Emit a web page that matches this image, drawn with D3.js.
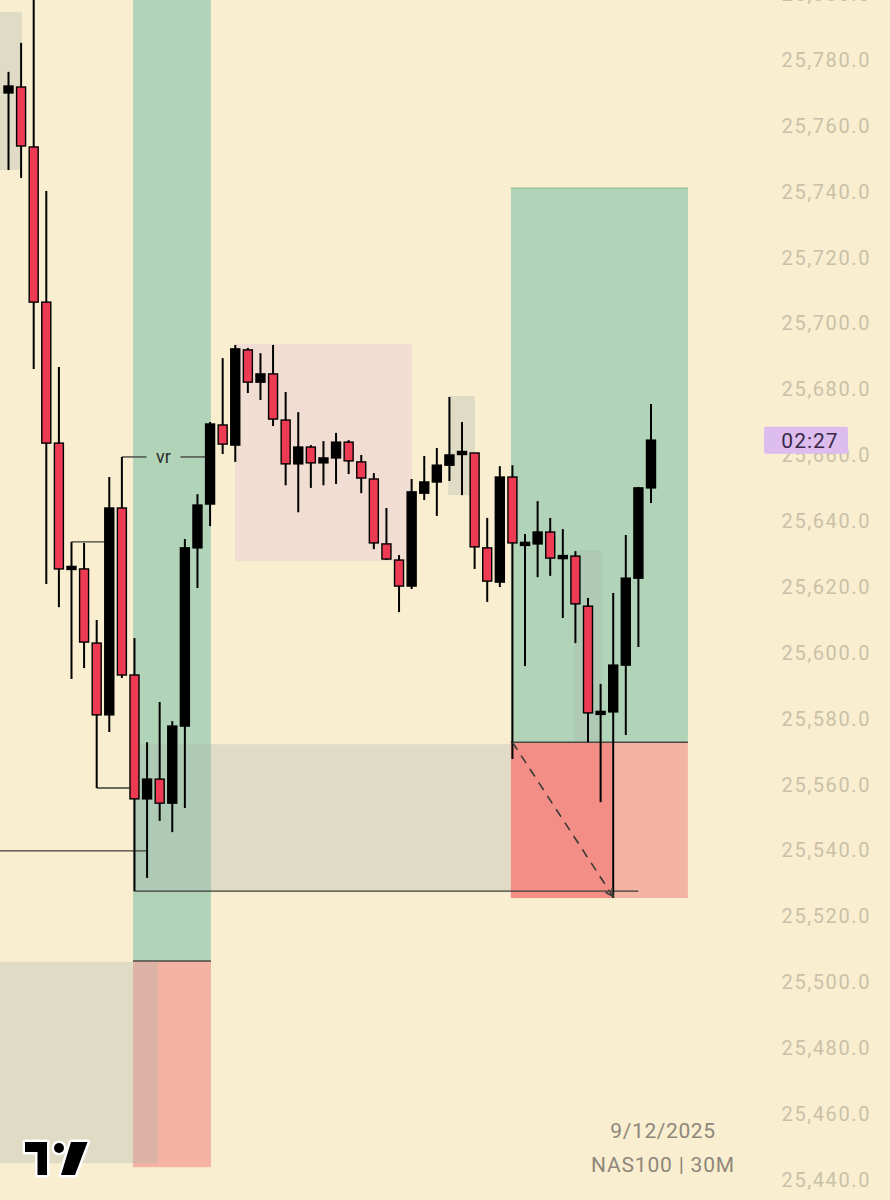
<!DOCTYPE html>
<html>
<head>
<meta charset="utf-8">
<script src="https://cdn.jsdelivr.net/npm/d3@7"></script>
<style>
  html,body{margin:0;padding:0;background:#f9eed0;}
  svg{display:block;}
</style>
</head>
<body>
<svg id="chart" width="890" height="1200"></svg>
<script>
// ---------- DATA (NAS100, 30M bars, prices) ----------
const openP  = [25770.0,25771.8,25753.6,25706.5,25663.7,25625.8,25625.5,25603.0,25581.2,25644.0,
                25593.3,25555.7,25561.7,25554.4,25577.8,25631.9,25645.2,25669.2,25663.1,25692.0,
                25682.2,25684.7,25670.7,25657.4,25662.5,25657.7,25659.2,25664.0,25658.0,25652.8,
                25633.1,25628.2,25620.3,25648.5,25651.9,25657.0,25660.7,25660.7,25631.9,25621.5,
                25653.4,25633.1,25633.1,25636.7,25629.1,25629.4,25614.2,25581.8,25582.1,25596.3,
                25622.7,25650.1];
const highP  = [25776.4,25785.2,25800.0,25740.2,25686.8,25633.7,25633.4,25610.0,25653.4,25659.5,
                25604.5,25572.9,25585.1,25579.3,25634.6,25648.2,25670.1,25689.5,25693.5,25692.6,
                25691.0,25693.5,25679.2,25673.1,25663.1,25664.3,25666.8,25664.6,25660.1,25654.6,
                25644.0,25629.7,25652.8,25659.8,25662.2,25677.7,25670.1,25660.7,25641.0,25656.7,
                25657.0,25636.1,25646.1,25641.0,25637.6,25630.9,25616.7,25590.6,25618.2,25635.8,
                25650.4,25675.6];
const lowP   = [25746.6,25744.2,25686.2,25620.9,25613.9,25592.1,25595.4,25559.0,25576.0,25592.4,
                25527.7,25531.7,25549.0,25545.6,25552.9,25619.7,25638.5,25660.4,25658.0,25678.9,
                25676.8,25668.9,25650.9,25642.7,25650.1,25650.9,25651.3,25654.3,25648.5,25631.5,
                25628.2,25612.4,25619.4,25646.4,25641.6,25652.2,25647.9,25625.5,25615.5,25620.0,
                25567.8,25596.0,25623.0,25623.4,25610.6,25603.0,25572.9,25554.7,25525.6,25575.1,
                25601.8,25645.5];
const closeP = [25772.1,25753.9,25706.5,25663.7,25625.5,25625.8,25603.3,25581.2,25644.0,25593.3,
                25555.7,25561.7,25554.4,25577.8,25631.9,25644.9,25669.5,25663.4,25692.3,25682.2,
                25684.7,25671.0,25657.4,25662.5,25657.7,25659.2,25664.0,25658.3,25653.1,25633.4,
                25628.5,25620.3,25648.9,25651.9,25657.0,25660.1,25660.7,25632.2,25621.8,25653.4,
                25633.4,25633.1,25636.7,25628.8,25629.1,25614.9,25581.8,25581.8,25596.3,25622.7,
                25650.1,25664.6];

const priceTicks = [25440,25460,25480,25500,25520,25540,25560,25580,25600,25620,25640,
                    25660,25680,25700,25720,25740,25760,25780,25800];

// drawn zones (bar index span, price span)
const greyZones   = [ {i0:-2, i1:1.07,  hi:25794.6, lo:25746.6},
                      {i0:9.88,i1:39.88,hi:25572.3, lo:25527.7},
                      {i0:-2, i1:11.87, hi:25506.2, lo:25445.1},
                      {i0:34.9,i1:37.02,hi:25678.0, lo:25647.9},
                      {i0:44.9,i1:47.1, hi:25631.2, lo:25572.9} ];
const pinkZone    = {i0:17.98, i1:32.02, hi:25693.8, lo:25627.9};
const bandPosition = {i0:9.88, i1:16.07, target:25830, entry:25506.5, stop:25443.9};
const longPosition = {i0:39.88, i1:53.93, target:25741.1, entry:25572.9, stop:25525.6, filledTo:47.9};
const levelLines  = [ {i0:-2, i1:11.0, p:25539.9},
                      {i0:10, i1:50.0, p:25527.7},
                      {i0:5,  i1:7.6,  p:25633.7},
                      {i0:7,  i1:9.6,  p:25559.0} ];
const vrLine      = {i0:9, i1:15.6, p:25659.5, label:"vr"};
const arrowLine   = {i0:40, p0:25572.9, i1:48, p1:25526.0};
const lastPrice   = 25664.6;
const countdown   = "02:27";
const dateText    = "9/12/2025";
const symbolText  = "NAS100 | 30M";

// ---------- SCALES ----------
const svg = d3.select("#chart");
const W = 890, H = 1200;
const x = d3.scaleLinear().domain([0, 51]).range([8.5, 651]);
const y = d3.scaleLinear().domain([25440, 25780]).range([1180, 60]);

svg.append("rect").attr("width",W).attr("height",H).attr("fill","#f9eed0");

const g = svg.append("g");

// band position (green/red vertical)
g.append("rect").attr("x",x(bandPosition.i0)).attr("width",x(bandPosition.i1)-x(bandPosition.i0))
  .attr("y",y(bandPosition.target)).attr("height",y(bandPosition.entry)-y(bandPosition.target))
  .attr("fill","#b1d4b8");
g.append("rect").attr("x",x(bandPosition.i0)).attr("width",x(bandPosition.i1)-x(bandPosition.i0))
  .attr("y",y(bandPosition.entry)).attr("height",y(bandPosition.stop)-y(bandPosition.entry))
  .attr("fill","#f5b3a3");
g.append("line").attr("x1",x(bandPosition.i0)).attr("x2",x(bandPosition.i1))
  .attr("y1",y(bandPosition.entry)).attr("y2",y(bandPosition.entry))
  .attr("stroke","#4a4a44").attr("stroke-width",1.5);

// long position
const lp = longPosition;
g.append("rect").attr("x",x(lp.i0)).attr("width",x(lp.i1)-x(lp.i0))
  .attr("y",y(lp.target)).attr("height",y(lp.entry)-y(lp.target)).attr("fill","#b1d4b8");
g.append("line").attr("x1",x(lp.i0)).attr("x2",x(lp.i1)).attr("y1",y(lp.target)).attr("y2",y(lp.target))
  .attr("stroke","#93c29c").attr("stroke-width",1.5);
g.append("rect").attr("x",x(lp.i0)).attr("width",x(lp.i1)-x(lp.i0))
  .attr("y",y(lp.entry)).attr("height",y(lp.stop)-y(lp.entry)).attr("fill","#f4b4a4");
g.append("rect").attr("x",x(lp.i0)).attr("width",x(lp.filledTo)-x(lp.i0))
  .attr("y",y(lp.entry)).attr("height",y(lp.stop)-y(lp.entry)).attr("fill","#f38e86");

// pink zone
g.append("rect").attr("x",x(pinkZone.i0)).attr("width",x(pinkZone.i1)-x(pinkZone.i0))
  .attr("y",y(pinkZone.hi)).attr("height",y(pinkZone.lo)-y(pinkZone.hi)).attr("fill","#f1ddd2");

// grey zones
g.selectAll("rect.grey").data(greyZones).join("rect").attr("class","grey")
  .attr("x",d=>x(d.i0)).attr("width",d=>x(d.i1)-x(d.i0))
  .attr("y",d=>y(d.hi)).attr("height",d=>y(d.lo)-y(d.hi))
  .attr("fill","rgb(168,180,170)").attr("fill-opacity",0.32);

// entry line of long position
g.append("line").attr("x1",x(lp.i0)).attr("x2",x(lp.i1)).attr("y1",y(lp.entry)).attr("y2",y(lp.entry))
  .attr("stroke","#4a4a44").attr("stroke-width",1.5);

// level lines
g.selectAll("line.lvl").data(levelLines).join("line").attr("class","lvl")
  .attr("x1",d=>x(d.i0)).attr("x2",d=>x(d.i1)).attr("y1",d=>y(d.p)).attr("y2",d=>y(d.p))
  .attr("stroke","#3c3c38").attr("stroke-width",1.3);

// vr line with label
const vrMid = (x(vrLine.i0)+x(vrLine.i1))/2;
g.append("line").attr("x1",x(vrLine.i0)).attr("x2",vrMid-17).attr("y1",y(vrLine.p)).attr("y2",y(vrLine.p))
  .attr("stroke","#3c3c38").attr("stroke-width",1.3);
g.append("line").attr("x1",vrMid+17).attr("x2",x(vrLine.i1)).attr("y1",y(vrLine.p)).attr("y2",y(vrLine.p))
  .attr("stroke","#3c3c38").attr("stroke-width",1.3);
g.append("text").attr("x",vrMid).attr("y",y(vrLine.p)).attr("dy","0.35em").attr("text-anchor","middle")
  .attr("font-family","Roboto, sans-serif").attr("font-size",18).attr("fill","#2a2a2a").text(vrLine.label);

// candles
const data = openP.map((o,i)=>({i, o, h:highP[i], l:lowP[i], c:closeP[i]}));
const bw = 9;
const cg = g.append("g");
cg.selectAll("line.wick").data(data).join("line").attr("class","wick")
  .attr("x1",d=>x(d.i)).attr("x2",d=>x(d.i)).attr("y1",d=>y(d.h)).attr("y2",d=>y(d.l))
  .attr("stroke","#000").attr("stroke-width",2);
cg.selectAll("rect.body").data(data).join("rect").attr("class","body")
  .attr("x",d=>x(d.i)-bw/2).attr("width",bw)
  .attr("y",d=>{const t=y(Math.max(d.o,d.c)), b=y(Math.min(d.o,d.c)); return (b-t)<3 ? (t+b)/2-1.5 : t;})
  .attr("height",d=>Math.max(3, y(Math.min(d.o,d.c))-y(Math.max(d.o,d.c))))
  .attr("fill",d=>d.c>=d.o ? "#000" : "#ec3b52")
  .attr("stroke","#000").attr("stroke-width",1.4);

// dashed arrow
const ax0=x(arrowLine.i0), ay0=y(arrowLine.p0), ax1=x(arrowLine.i1), ay1=y(arrowLine.p1);
g.append("line").attr("x1",ax0).attr("y1",ay0).attr("x2",ax1).attr("y2",ay1)
  .attr("stroke","#3a3a36").attr("stroke-width",1.6).attr("stroke-dasharray","9,7");
const ang = Math.atan2(ay1-ay0, ax1-ax0);
const ah = 9;
g.append("path").attr("d",`M${ax1-ah*Math.cos(ang-0.45)},${ay1-ah*Math.sin(ang-0.45)} L${ax1},${ay1} L${ax1-ah*Math.cos(ang+0.45)},${ay1-ah*Math.sin(ang+0.45)}`)
  .attr("fill","none").attr("stroke","#3a3a36").attr("stroke-width",1.6);

// y axis
const yAxis = d3.axisLeft(y).tickValues(priceTicks).tickFormat(d3.format(",.1f")).tickSize(0).tickPadding(0);
const axG = svg.append("g").attr("transform","translate(871,0)").call(yAxis);
axG.select(".domain").remove();
axG.selectAll("text").attr("font-family","Roboto, sans-serif").attr("font-size",20)
  .attr("fill","#cac1a8").attr("letter-spacing","1.6px");

// countdown label
const ly = y(lastPrice);
svg.append("rect").attr("x",764).attr("y",ly-13.5).attr("width",84).attr("height",27).attr("rx",2)
  .attr("fill","#dcbdee");
svg.append("text").attr("x",810).attr("y",ly).attr("dy","0.36em").attr("text-anchor","middle")
  .attr("font-family","Roboto, sans-serif").attr("font-size",21).attr("letter-spacing","1px")
  .attr("fill","#3a2848").text(countdown);

// footer texts
svg.append("text").attr("x",663).attr("y",1138).attr("text-anchor","middle")
  .attr("font-family","Roboto, sans-serif").attr("font-size",21).attr("letter-spacing","0.6px")
  .attr("fill","#8e877a").text(dateText);
svg.append("text").attr("x",663).attr("y",1172).attr("text-anchor","middle")
  .attr("font-family","Roboto, sans-serif").attr("font-size",21).attr("letter-spacing","0.8px")
  .attr("fill","#8e877a").text(symbolText);

// logo
const logo = svg.append("g");
const lpaths = ["M25,1142 H47 V1175 H37.5 V1152 H25 Z","M71,1142 H87.5 L75,1175 H61 Z"];
lpaths.forEach(p=>logo.append("path").attr("d",p).attr("fill","#000").attr("stroke","#fff")
  .attr("stroke-width",5).attr("stroke-linejoin","round").attr("paint-order","stroke"));
logo.append("circle").attr("cx",59).attr("cy",1148).attr("r",5).attr("fill","#000")
  .attr("stroke","#fff").attr("stroke-width",5).attr("paint-order","stroke");
</script>
</body>
</html>
